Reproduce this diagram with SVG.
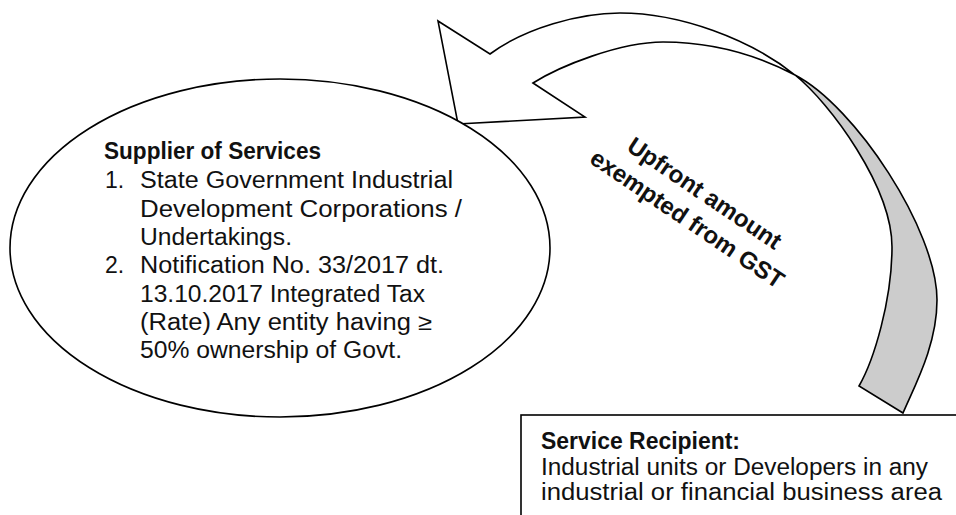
<svg xmlns="http://www.w3.org/2000/svg" width="956" height="515" viewBox="0 0 956 515">
<style>
.ln{stroke:#000;stroke-width:1.6;stroke-linejoin:miter}
.t{font-family:"Liberation Sans",Arial,sans-serif;font-size:23px;fill:#111}
.b{font-weight:bold}
.lbl{font-size:24px;text-anchor:middle}
</style>
<rect width="956" height="515" fill="#fff"/>
<g id="connectors">
<path id="arrow-back" class="ln" fill="#cccccc" d="M795,75 C830,103 892,187 892,247 C892,300 874,360 859,386 L903,413 C915,385 937,345 937,300 C937,230 855,106 795,75 Z"/>
<path id="arrow-front" class="ln" fill="#ffffff" d="M533,83 L585,117 L458,124 L438,21 L490,54 C525,28 580,13 620,13 C680,13 750,39 795,75 C755,54 710,42 663,42 C620,42 560,66 533,83 Z"/>
<g id="arrow-label" transform="translate(700,200) rotate(34)">
<text class="t b lbl" x="0" y="0">Upfront amount</text>
<text class="t b lbl" x="0" y="31">exempted from GST</text>
</g>
</g>
<g id="supplier">
<ellipse class="ln" fill="#fff" cx="280" cy="248" rx="270" ry="169"/>
<text class="t b" x="104" y="159" textLength="217" lengthAdjust="spacingAndGlyphs">Supplier of Services</text>
<text class="t" x="105" y="188">1.</text>
<text class="t" x="140" y="188" textLength="313" lengthAdjust="spacingAndGlyphs">State Government Industrial</text>
<text class="t" x="140" y="217" textLength="322" lengthAdjust="spacingAndGlyphs">Development Corporations /</text>
<text class="t" x="140" y="245" textLength="152" lengthAdjust="spacingAndGlyphs">Undertakings.</text>
<text class="t" x="105" y="273">2.</text>
<text class="t" x="140" y="273" textLength="304" lengthAdjust="spacingAndGlyphs">Notification No. 33/2017 dt.</text>
<text class="t" x="140" y="302" textLength="285" lengthAdjust="spacingAndGlyphs">13.10.2017 Integrated Tax</text>
<text class="t" x="140" y="330" textLength="292" lengthAdjust="spacingAndGlyphs">(Rate) Any entity having ≥</text>
<text class="t" x="140" y="358" textLength="262" lengthAdjust="spacingAndGlyphs">50% ownership of Govt.</text>
</g>
<g id="recipient">
<rect class="ln" fill="#fff" x="521" y="415" width="460" height="130"/>
<text class="t b" x="541" y="449" textLength="199" lengthAdjust="spacingAndGlyphs">Service Recipient:</text>
<text class="t" x="541" y="475" textLength="387" lengthAdjust="spacingAndGlyphs">Industrial units or Developers in any</text>
<text class="t" x="541" y="500" textLength="401" lengthAdjust="spacingAndGlyphs">industrial or financial business area</text>
</g>
</svg>
